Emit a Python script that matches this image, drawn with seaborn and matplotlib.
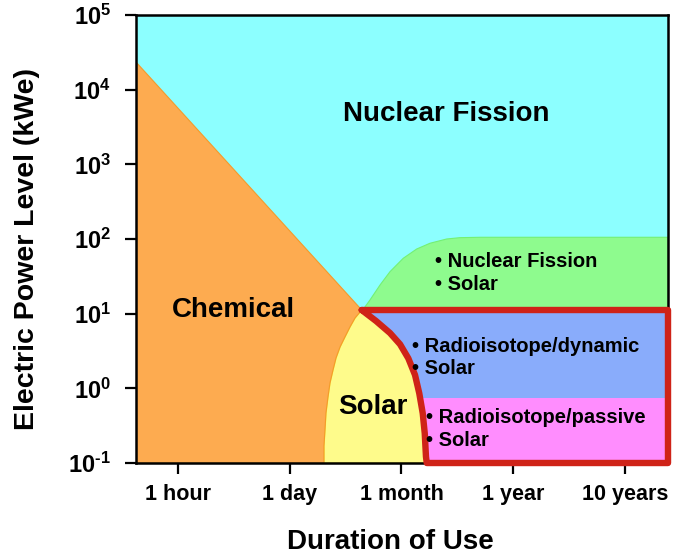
import numpy as np
import matplotlib
matplotlib.use("Agg")
import matplotlib.pyplot as plt
import matplotlib.transforms as mtransforms
import seaborn as sns

# ---------------- data ----------------
duration_labels = ["1 hour", "1 day", "1 month", "1 year", "10 years"]
power_exponents = [-1, 0, 1, 2, 3, 4, 5]

# boundary points (x in duration-tick units, y as log10 kWe)
chem_top_x = [-0.376, 1.644]
chem_top_y = [4.37, 1.049]

solar_left_x = [1.644, 1.584, 1.539, 1.494, 1.450, 1.414, 1.387, 1.360, 1.342,
                1.324, 1.315, 1.306, 1.306]
solar_left_y = [1.049, 0.942, 0.822, 0.688, 0.554, 0.407, 0.246, 0.072, -0.116,
                -0.330, -0.558, -0.772, -1.0]

solar_right_x = [1.644, 1.772, 1.897, 1.987, 2.061, 2.121, 2.159, 2.190, 2.208,
                 2.219, 2.226]
solar_right_y = [1.049, 0.902, 0.741, 0.590, 0.402, 0.179, -0.066, -0.334,
                 -0.602, -0.915, -1.0]

green_x = [1.653, 1.718, 1.808, 1.897, 2.016, 2.136, 2.255, 2.404, 2.523, 2.702, 4.385]
green_y = [1.049, 1.183, 1.384, 1.562, 1.742, 1.866, 1.943, 2.000, 2.018, 2.023, 2.023]

box_top = 1.049
dyn_passive_split = -0.13

# ---------------- style ----------------
sns.set_theme(style="ticks")
plt.rcParams["font.family"] = ["Liberation Sans", "DejaVu Sans"]
plt.rcParams["font.weight"] = "bold"
plt.rcParams["text.color"] = "black"
plt.rcParams["axes.labelcolor"] = "black"
plt.rcParams["xtick.color"] = "black"
plt.rcParams["ytick.color"] = "black"
plt.rcParams["mathtext.fontset"] = "custom"
plt.rcParams["mathtext.rm"] = "Liberation Sans:bold"
plt.rcParams["mathtext.bf"] = "Liberation Sans:bold"
plt.rcParams["mathtext.it"] = "Liberation Sans:bold"

c_cyan = "#8cffff"
c_orange = "#fdab50"
c_yellow = "#fefb8b"
c_green = "#8efb8e"
c_blue = "#89acfb"
c_pink = "#ff8dfe"
c_red = "#cf2318"

fig = plt.figure(figsize=(6.81, 5.59), dpi=100)
ax = fig.add_axes([136 / 681, 96 / 559, 532 / 681, 448 / 559])
ax.set_facecolor(c_cyan)
ax.set_yscale("log")
xmin, xmax = -0.376, 4.385
ymin, ymax = 1e-1, 1e5
ax.set_xlim(xmin, xmax)
ax.set_ylim(ymin, ymax)

P = lambda arr: 10.0 ** np.asarray(arr, dtype=float)

# green region
gx = list(green_x) + [xmax, solar_right_x[0]]
gy = list(green_y) + [box_top, box_top]
ax.fill(gx, P(gy), color=c_green, ec="#74f074", lw=0.8, zorder=1)

# blue region (right of the red curve inside the box)
bx = list(solar_right_x) + [xmax, xmax]
by = list(solar_right_y) + [-1.0, box_top]
ax.fill(bx, P(by), color=c_blue, ec="#9cc0ff", lw=0.8, zorder=1.1)

# pink region
ax.fill([1.5, xmax, xmax, 1.5], P([-1.0, -1.0, dyn_passive_split, dyn_passive_split]),
        color=c_pink, lw=0, zorder=1.2)

# yellow solar
yx = list(solar_left_x) + list(solar_right_x[::-1])
yy = list(solar_left_y) + list(solar_right_y[::-1])
ax.fill(yx, P(yy), color=c_yellow, ec="#f2ea3c", lw=1.0, zorder=1.3)

# orange chemical
ox = [xmin] + chem_top_x[1:] + solar_left_x[1:] + [xmin]
oy = [chem_top_y[0]] + chem_top_y[1:] + solar_left_y[1:] + [-1.0]
ax.fill(ox, P(oy), color=c_orange, ec="#f59a2a", lw=0.8, zorder=1.4)

# red outline
rx = list(solar_right_x) + [xmax, xmax, solar_right_x[0]]
ry = list(solar_right_y) + [-1.0, box_top, box_top]
ax.plot(rx, P(ry), color=c_red, lw=4.6, solid_joinstyle="round",
        solid_capstyle="round", zorder=5, clip_on=False)

# ---------------- text ----------------
ax.text(2.398, P(3.674), "Nuclear Fission", fontsize=20, fontweight="bold",
        ha="center", va="center", zorder=6)
ax.text(0.492, P(1.05), "Chemical", fontsize=20, fontweight="bold",
        ha="center", va="center", zorder=6)
ax.text(1.745, P(-0.25), "Solar", fontsize=20, fontweight="bold",
        ha="center", va="center", zorder=6)

small = [
    (2.30, 1.692, "\u2022 Nuclear Fission"),
    (2.30, 1.384, "\u2022 Solar"),
    (2.09, 0.554, "\u2022 Radioisotope/dynamic"),
    (2.09, 0.259, "\u2022 Solar"),
    (2.215, -0.397, "\u2022 Radioisotope/passive"),
    (2.215, -0.705, "\u2022 Solar"),
]
for x, y, s in small:
    ax.text(x, P(y), s, fontsize=14.5, fontweight="bold", ha="left",
            va="center", zorder=6)

# ---------------- axes ----------------
ax.set_xticks(range(len(duration_labels)))
ax.set_xticklabels(duration_labels, fontsize=15.5, fontweight="bold")
label_shift_px = [5, -5, 2, -7, 10]
for lab, dx in zip(ax.get_xticklabels(), label_shift_px):
    lab.set_transform(lab.get_transform() +
                      mtransforms.ScaledTranslation(dx / 100, 0, fig.dpi_scale_trans))
ax.set_yticks(P(power_exponents))
ax.set_yticklabels([r"$10^{\text{%d}}$" % e for e in power_exponents], fontsize=17)
ax.yaxis.set_minor_locator(matplotlib.ticker.NullLocator())
ax.tick_params(axis="both", direction="out", length=8, width=1.6, color="black")
ax.tick_params(axis="x", pad=7)
ax.tick_params(axis="y", pad=10)
for sp in ax.spines.values():
    sp.set_color("black")
    sp.set_linewidth(1.8)
    sp.set_zorder(4)

ax.set_xlabel("Duration of Use", fontsize=20, fontweight="bold")
ax.xaxis.set_label_coords(0.479, -0.148)
ax.set_ylabel("Electric Power Level (kWe)", fontsize=20.5, fontweight="bold")
ax.yaxis.set_label_coords(-0.181, 0.478)

fig.savefig("out.png", dpi=100)
